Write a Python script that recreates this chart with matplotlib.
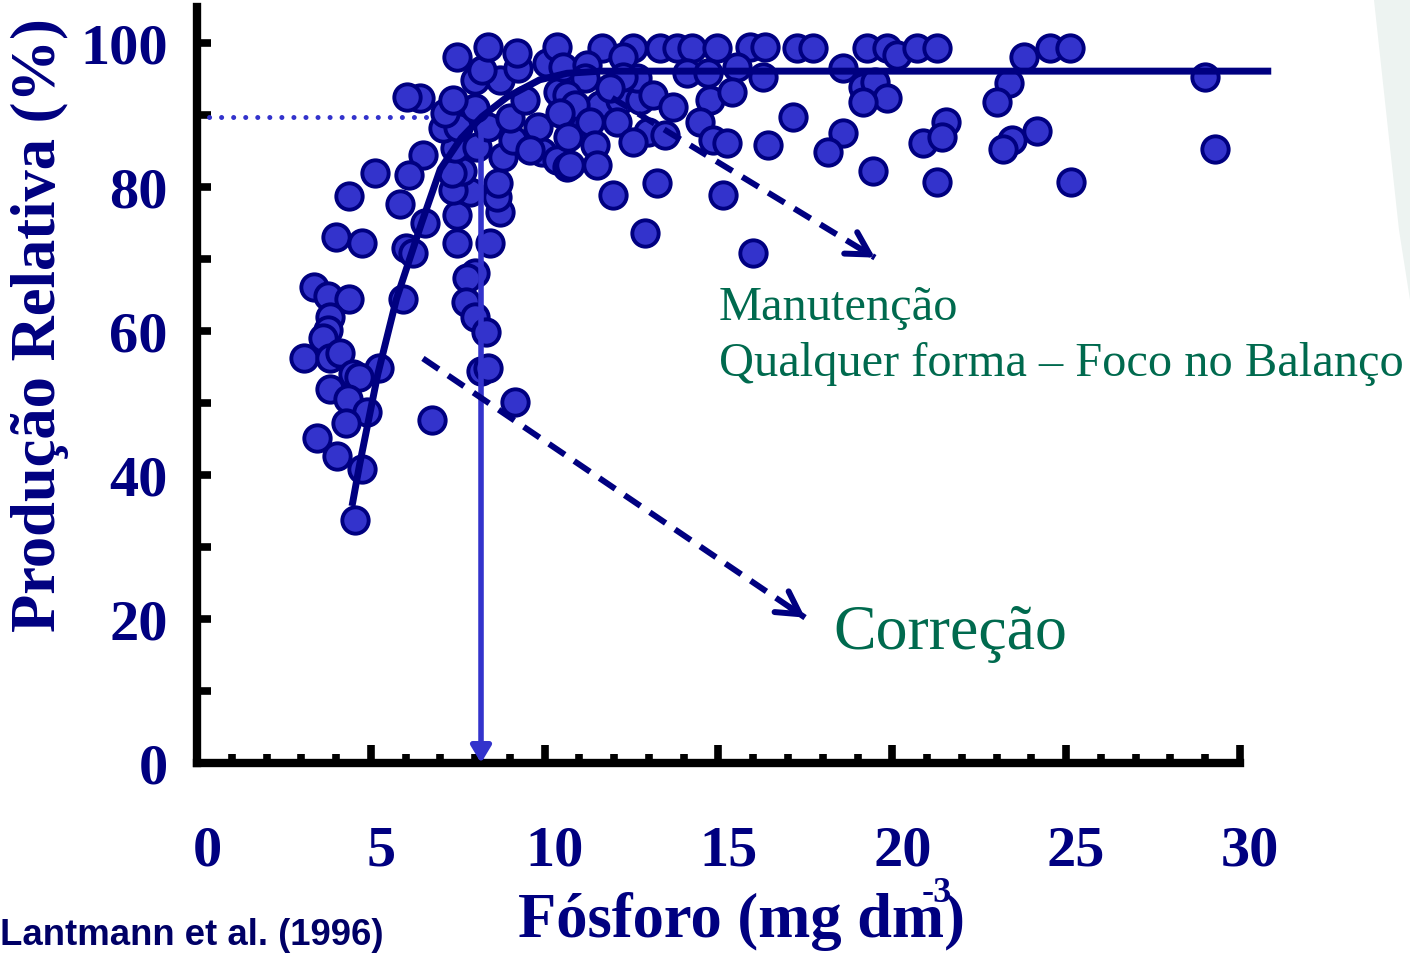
import matplotlib
matplotlib.use('Agg')
import matplotlib.pyplot as plt
import matplotlib.transforms as mtransforms
from matplotlib.patches import Polygon

# Fósforo no solo (mg dm-3) x produção relativa (%)
p_x = [6.50, 5.12, 6.10, 4.37, 5.84, 6.56, 4.00, 4.75, 6.01, 6.21,
       3.36, 3.77, 4.37, 5.92, 3.83, 3.77, 3.62, 3.08, 3.83, 4.11,
       5.23, 4.49, 4.66, 3.83, 4.34, 4.89, 4.29, 3.45, 4.03, 4.75,
       4.54, 6.76, 9.15,
       8.00, 7.77, 7.74, 8.00, 8.31, 8.17, 8.37, 8.43, 7.48, 7.48,
       8.71, 7.85, 7.36, 8.63, 8.66, 7.62, 7.33, 7.42, 8.05, 8.80,
       9.09, 9.92, 10.35, 10.64, 7.08, 7.51, 8.37, 9.81, 7.13, 8.00,
       9.00, 10.53, 6.41, 6.04, 7.36, 8.00, 8.71, 10.38, 8.20, 9.23,
       10.07, 7.48, 8.37, 9.20, 10.35, 9.43, 9.58, 11.16, 11.59, 12.17,
       12.74,
       11.65, 12.54, 13.32, 13.80, 14.24, 14.96, 15.90, 10.53, 11.22, 12.25,
       12.65, 12.25, 14.09, 14.70, 15.53, 11.16, 11.88, 13.11, 13.69, 14.75,
       15.39, 10.64, 10.87, 10.44, 11.30, 12.08, 12.97, 13.46, 14.47, 14.84,
       15.24, 16.42, 10.67, 11.45, 12.54, 10.73, 11.50, 13.23, 11.96, 15.13,
       12.88, 15.99,
       17.26, 17.72, 19.27, 19.84, 20.13, 20.71, 21.28, 18.58, 19.15, 19.50,
       19.84, 19.15, 17.14, 18.58, 18.15, 19.44, 20.88, 21.54, 21.43, 21.28,
       16.28, 16.34,
       24.53, 25.11, 23.78, 23.35, 23.01, 23.44, 23.18, 24.16, 25.14, 28.99,
       29.28]
p_y = [84.4, 81.9, 81.7, 78.7, 77.6, 75.0, 73.0, 72.2, 71.6, 70.9,
       66.1, 64.8, 64.4, 64.4, 61.9, 60.2, 59.0, 56.2, 56.3, 57.0,
       54.9, 54.1, 53.6, 52.0, 50.5, 48.8, 47.2, 45.1, 42.6, 40.9,
       33.7, 47.6, 50.1,
       68.0, 67.3, 64.0, 61.9, 59.8, 54.5, 54.9, 72.3, 72.2, 76.1,
       76.5, 79.3, 79.6, 78.6, 80.5, 82.3, 81.9, 85.4, 85.5, 84.2,
       86.5, 84.9, 83.7, 82.8, 88.2, 88.3, 88.3, 88.3, 90.3, 91.0,
       89.6, 91.1, 92.4, 92.5, 92.1, 94.9, 94.9, 93.2, 96.3, 96.5,
       97.2, 98.1, 99.5, 98.6, 99.5, 92.1, 85.1, 88.6, 91.4, 92.1,
       92.1,
       99.3, 99.3, 99.3, 99.3, 99.3, 99.3, 99.5, 96.7, 96.9, 98.1,
       95.1, 95.3, 95.8, 95.8, 96.7, 95.1, 93.8, 92.8, 91.1, 92.1,
       93.2, 92.8, 91.4, 90.3, 89.0, 89.0, 87.6, 87.2, 89.0, 86.5,
       86.1, 85.8, 86.9, 85.8, 86.2, 83.0, 83.0, 80.5, 78.9, 78.9,
       73.6, 70.9,
       99.3, 99.3, 99.3, 99.3, 98.3, 99.3, 99.3, 96.5, 93.9, 94.6,
       92.4, 91.8, 89.7, 87.5, 84.9, 82.3, 86.1, 89.0, 86.9, 80.7,
       95.3, 99.5,
       99.3, 99.3, 98.1, 94.4, 91.8, 86.6, 85.3, 87.8, 80.7, 95.3,
       85.3]

# curva ajustada (resposta com platô)
curve_x = [4.46, 4.68, 5.20, 5.74, 6.46, 7.00, 7.60, 8.20, 8.92, 9.86, 10.64, 11.60, 30.9]
curve_y = [35.7, 41.5, 54.0, 64.5, 75.0, 82.5, 86.8, 89.8, 92.5, 94.9, 95.8, 96.1, 96.1]

# nível crítico: 90 % da produção
crit_p = 8.17
crit_y = 89.7

x_ticks = [0, 5, 10, 15, 20, 25, 30]
y_ticks = [0, 20, 40, 60, 80, 100]

navy = '#000080'
dot_blue = '#3333CC'
green = '#006A4E'
serif = 'Liberation Serif'

fig = plt.figure(figsize=(14.1, 9.55), dpi=100)
fig.patch.set_facecolor('white')

# faixa clara no canto superior direito
corner = [(1374, 0), (1410, 0), (1410, 300), (1399, 230), (1387, 120)]
fig.add_artist(Polygon([(x / 1410, 1 - y / 955) for x, y in corner], closed=True,
                       transform=fig.transFigure, facecolor='#edf3f1', edgecolor='none', zorder=0))

ax = fig.add_axes([0.1397, 0.201, 0.7397, 0.7916])
ax.set_xlim(0, 30)
ax.set_ylim(0, 105)

for side in ['top', 'right']:
    ax.spines[side].set_visible(False)
for side in ['left', 'bottom']:
    ax.spines[side].set_linewidth(6)
    ax.spines[side].set_color('black')

ax.set_xticks(x_ticks)
ax.set_xticks(range(0, 31), minor=True)
ax.set_yticks(y_ticks)
ax.set_yticks([10, 30, 50, 70, 90], minor=True)
ax.set_xticklabels([str(v) for v in x_ticks])
ax.set_yticklabels([str(v) for v in y_ticks])

ax.tick_params(axis='x', which='major', direction='in', length=13, width=5.5, pad=45)
ax.tick_params(axis='x', which='minor', direction='in', length=6.5, width=5.5)
ax.tick_params(axis='y', which='both', direction='in', length=10, width=5.5, pad=21)

for lbl in ax.get_xticklabels() + ax.get_yticklabels():
    lbl.set_fontfamily(serif)
    lbl.set_fontweight('bold')
    lbl.set_fontsize(42)
    lbl.set_color(navy)
for lbl in ax.get_xticklabels():
    lbl.set_transform(lbl.get_transform() + mtransforms.ScaledTranslation(0.1, 0, fig.dpi_scale_trans))

# linha pontilhada até o nível crítico
ax.plot([0, crit_p], [crit_y, crit_y], color=dot_blue, lw=3.6,
        linestyle=(0, (0.01, 2.4)), dash_capstyle='round', zorder=2)

ax.scatter(p_x, p_y, s=360, c=dot_blue, edgecolors=navy, linewidths=2.8,
           zorder=3, clip_on=False)

ax.plot(curve_x, curve_y, color=navy, lw=5, zorder=4, clip_on=False,
        solid_capstyle='butt', solid_joinstyle='round')

# seta vertical no teor crítico
ax.annotate('', xy=(crit_p, 0), xytext=(crit_p, 88),
            arrowprops=dict(arrowstyle='-|>, head_length=0.5, head_width=0.3', color=dot_blue,
                            lw=4, shrinkA=0, shrinkB=0, mutation_scale=20),
            zorder=5)

# setas tracejadas
arrows = [((6.50, 56.2), (17.49, 20.2)), ((11.94, 92.4), (19.50, 70.2))]
for (x0, y0), (x1, y1) in arrows:
    ax.plot([x0, x1], [y0, y1], color=navy, lw=4.3, linestyle=(0, (3.2, 1.9)),
            zorder=5, clip_on=False)
    ax.annotate('', xy=(x1, y1), xytext=(x1 - 0.04 * (x1 - x0), y1 - 0.04 * (y1 - y0)),
                arrowprops=dict(arrowstyle='->, head_length=0.8, head_width=0.45', color=navy,
                                lw=4.3, shrinkA=0, shrinkB=0, mutation_scale=20),
                zorder=5)

ax.text(15.01, 61.6, 'Manutenção', fontsize=34.8, family=serif, color=green,
        ha='left', va='baseline', clip_on=False)
ax.text(15.01, 53.7, 'Qualquer forma – Foco no Balanço', fontsize=34.8, family=serif,
        color=green, ha='left', va='baseline', clip_on=False)
ax.text(18.31, 15.9, 'Correção', fontsize=46, family=serif, color=green,
        ha='left', va='baseline', clip_on=False)

fig.text(40 / 1410, 1 - 325 / 955, 'Produção Relativa (%)', rotation=90,
         ha='center', va='center', fontsize=45, fontweight='bold', family=serif, color=navy)
fig.text(741 / 1410, 1 - 921 / 955, 'Fósforo (mg dm)', ha='center', va='center',
         fontsize=45, fontweight='bold', family=serif, color=navy)
fig.text(937 / 1410, 1 - 893 / 955, '-3', ha='center', va='center',
         fontsize=26, fontweight='bold', family=serif, color=navy)
fig.text(0.0, 1 - 935 / 955, 'Lantmann et al. (1996)', ha='left', va='center',
         fontsize=26.3, fontweight='bold', family='Liberation Sans', color='#000066')

fig.savefig('out.png', dpi=100, facecolor='white')
